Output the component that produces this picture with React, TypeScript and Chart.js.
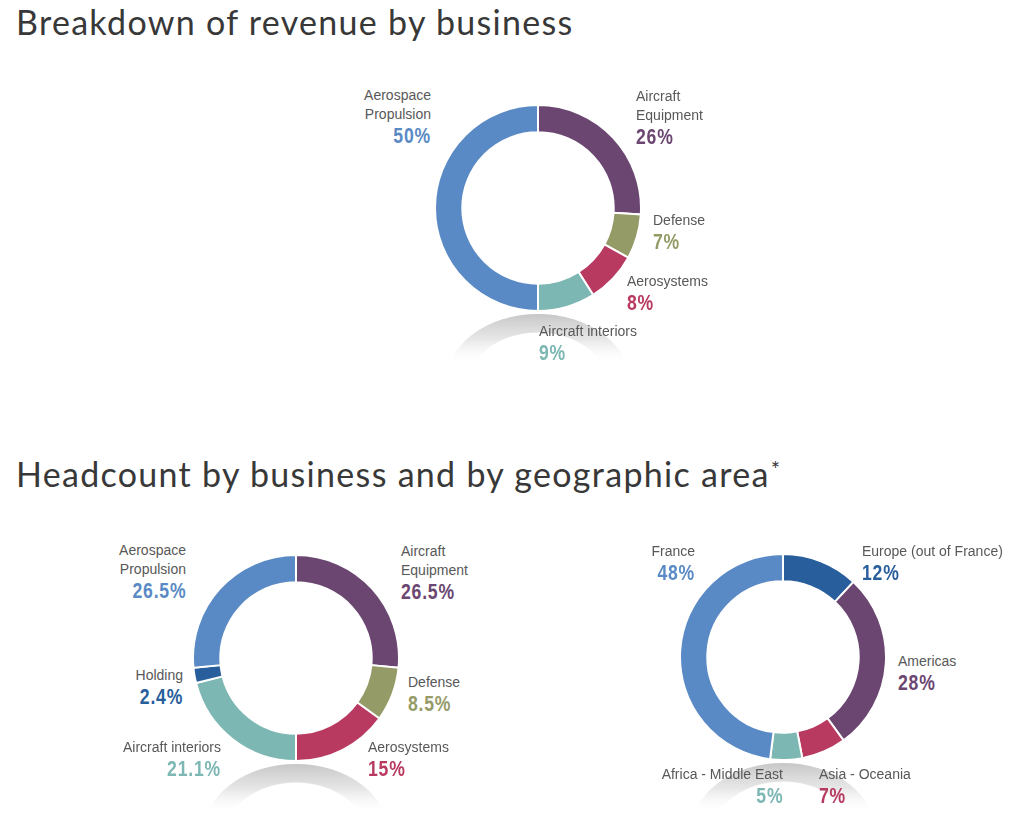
import React, { useEffect, useRef } from "react";
import { Chart, registerables } from "chart.js";

Chart.register(...registerables);

// ---------- Data ----------
const revenueCategories = ["Aircraft Equipment", "Defense", "Aerosystems", "Aircraft interiors", "Aerospace Propulsion"];
const revenueValues = [26, 7, 8, 9, 50];
const revenueColors = ["#6a4671", "#959b67", "#b83a60", "#7db7b3", "#5a8ac5"];

const headcountBizCategories = ["Aircraft Equipment", "Defense", "Aerosystems", "Aircraft interiors", "Holding", "Aerospace Propulsion"];
const headcountBizValues = [26.5, 8.5, 15, 21.1, 2.4, 26.5];
const headcountBizColors = ["#6a4671", "#959b67", "#b83a60", "#7db7b3", "#285e9b", "#5a8ac5"];

const headcountGeoCategories = ["Europe (out of France)", "Americas", "Asia - Oceania", "Africa - Middle East", "France"];
const headcountGeoValues = [12, 28, 7, 5, 48];
const headcountGeoColors = ["#285e9b", "#6a4671", "#b83a60", "#7db7b3", "#5a8ac5"];

// label text lines (category names split for display) and percent strings
const revenueLabelLines = [["Aircraft", "Equipment"], ["Defense"], ["Aerosystems"], ["Aircraft interiors"], ["Aerospace", "Propulsion"]];
const revenuePctText = ["26%", "7%", "8%", "9%", "50%"];
const headcountBizLabelLines = [["Aircraft", "Equipment"], ["Defense"], ["Aerosystems"], ["Aircraft interiors"], ["Holding"], ["Aerospace", "Propulsion"]];
const headcountBizPctText = ["26.5%", "8.5%", "15%", "21.1%", "2.4%", "26.5%"];
const headcountGeoLabelLines = [["Europe (out of France)"], ["Americas"], ["Asia - Oceania"], ["Africa - Middle East"], ["France"]];
const headcountGeoPctText = ["12%", "28%", "7%", "5%", "48%"];

// ---------- Layout (positions only) ----------
type Anchor = { x: number; y: number; align: "left" | "right" };
const revenueAnchors: Anchor[] = [
  { x: 636, y: 87, align: "left" },
  { x: 653, y: 210.5, align: "left" },
  { x: 627, y: 271.5, align: "left" },
  { x: 539, y: 321.5, align: "left" },
  { x: 431, y: 85.5, align: "right" },
];
const headcountBizAnchors: Anchor[] = [
  { x: 401, y: 541.5, align: "left" },
  { x: 408, y: 672.5, align: "left" },
  { x: 368, y: 737.5, align: "left" },
  { x: 221, y: 737.5, align: "right" },
  { x: 183, y: 665.5, align: "right" },
  { x: 186, y: 540.5, align: "right" },
];
const headcountGeoAnchors: Anchor[] = [
  { x: 862, y: 541.5, align: "left" },
  { x: 898, y: 651.5, align: "left" },
  { x: 819, y: 764.5, align: "left" },
  { x: 783, y: 764.5, align: "right" },
  { x: 695, y: 541.5, align: "right" },
];

const RING_R = 103;
const REFLECT_H = 60;

const reflectionPlugin = {
  id: "reflection",
  beforeDatasetsDraw(chart: any) {
    const arc = chart.getDatasetMeta(0).data[0];
    if (!arc) return;
    const { x, y, outerRadius, innerRadius } = arc.getProps(["x", "y", "outerRadius", "innerRadius"], true);
    const ctx = chart.ctx as CanvasRenderingContext2D;
    const top = y + outerRadius + 3;
    const t = outerRadius - innerRadius;
    const rx = outerRadius * 0.9;
    const ry = outerRadius * 0.68;
    const cy = top + ry;
    ctx.save();
    ctx.beginPath();
    ctx.rect(0, top, chart.width, chart.height - top);
    ctx.clip();
    const g = ctx.createLinearGradient(0, top, 0, top + 50);
    g.addColorStop(0, "rgba(175,175,175,0.7)");
    g.addColorStop(0.5, "rgba(200,200,200,0.45)");
    g.addColorStop(1, "rgba(255,255,255,0)");
    ctx.fillStyle = g;
    ctx.beginPath();
    ctx.ellipse(x, cy, rx, ry, 0, 0, Math.PI * 2);
    ctx.moveTo(x + rx - t * 0.85, cy);
    ctx.ellipse(x, cy, rx - t * 0.85, ry - t * 0.68, 0, 0, Math.PI * 2);
    ctx.fill("evenodd");
    ctx.restore();
  },
};

function Donut(props: {
  cx: number;
  cy: number;
  categories: string[];
  values: number[];
  colors: string[];
  lines: string[][];
  pcts: string[];
  anchors: Anchor[];
}) {
  const ref = useRef<HTMLCanvasElement>(null);
  const S = RING_R * 2 + 2;
  useEffect(() => {
    if (!ref.current) return;
    const chart = new Chart(ref.current, {
      type: "doughnut",
      data: {
        labels: props.categories,
        datasets: [
          {
            data: props.values,
            backgroundColor: props.colors,
            borderColor: "#ffffff",
            borderWidth: 2,
          },
        ],
      },
      options: {
        responsive: false,
        maintainAspectRatio: false,
        animation: false,
        cutout: "73.5%",
        events: [],
        layout: { padding: { bottom: REFLECT_H } },
        plugins: { legend: { display: false }, tooltip: { enabled: false } },
      },
      plugins: [reflectionPlugin],
    });
    return () => chart.destroy();
  }, []);
  return (
    <>
      <canvas
        ref={ref}
        width={S}
        height={S + REFLECT_H}
        style={{ position: "absolute", left: props.cx - S / 2, top: props.cy - S / 2, width: S, height: S + REFLECT_H }}
      />
      {props.anchors.map((a, i) => (
        <div
          key={i}
          style={{
            position: "absolute",
            top: a.y,
            left: a.align === "left" ? a.x : undefined,
            right: a.align === "right" ? 1024 - a.x : undefined,
            textAlign: a.align,
            whiteSpace: "nowrap",
          }}
        >
          {props.lines[i].map((l, j) => (
            <div key={j} style={{ font: "14px 'Liberation Sans', Arial, sans-serif", lineHeight: "19px", color: "#585858" }}>
              {l}
            </div>
          ))}
          <div
            style={{
              font: "22px 'Liberation Sans Narrow', 'Liberation Sans', sans-serif",
              fontWeight: 600,
              letterSpacing: "1px",
              lineHeight: "20px",
              height: 20,
              marginTop: 2,
              color: props.colors[i],
              transform: "scaleX(0.8)",
              transformOrigin: a.align === "left" ? "left center" : "right center",
            }}
          >
            {props.pcts[i]}
          </div>
        </div>
      ))}
    </>
  );
}

const titleStyle: React.CSSProperties = {
  position: "absolute",
  left: 16,
  margin: 0,
  font: "34px Lato, 'Open Sans', sans-serif",
  fontWeight: 400,
  letterSpacing: "1.3px",
  lineHeight: "34px",
  color: "#383838",
  whiteSpace: "nowrap",
};

export default function App() {
  return (
    <div style={{ position: "absolute", left: 0, top: 0, width: 1024, height: 821, overflow: "hidden", background: "#fff" }}>
      <div style={{ ...titleStyle, top: 5 }}>Breakdown of revenue by business</div>
      <div style={{ ...titleStyle, top: 457 }}>
        Headcount by business and by geographic area
        <span style={{ fontSize: 22, position: "relative", top: -10, marginLeft: 1 }}>*</span>
      </div>
      <Donut
        cx={537.5}
        cy={208}
        categories={revenueCategories}
        values={revenueValues}
        colors={revenueColors}
        lines={revenueLabelLines}
        pcts={revenuePctText}
        anchors={revenueAnchors}
      />
      <Donut
        cx={296}
        cy={657.5}
        categories={headcountBizCategories}
        values={headcountBizValues}
        colors={headcountBizColors}
        lines={headcountBizLabelLines}
        pcts={headcountBizPctText}
        anchors={headcountBizAnchors}
      />
      <Donut
        cx={783}
        cy={657}
        categories={headcountGeoCategories}
        values={headcountGeoValues}
        colors={headcountGeoColors}
        lines={headcountGeoLabelLines}
        pcts={headcountGeoPctText}
        anchors={headcountGeoAnchors}
      />
    </div>
  );
}
